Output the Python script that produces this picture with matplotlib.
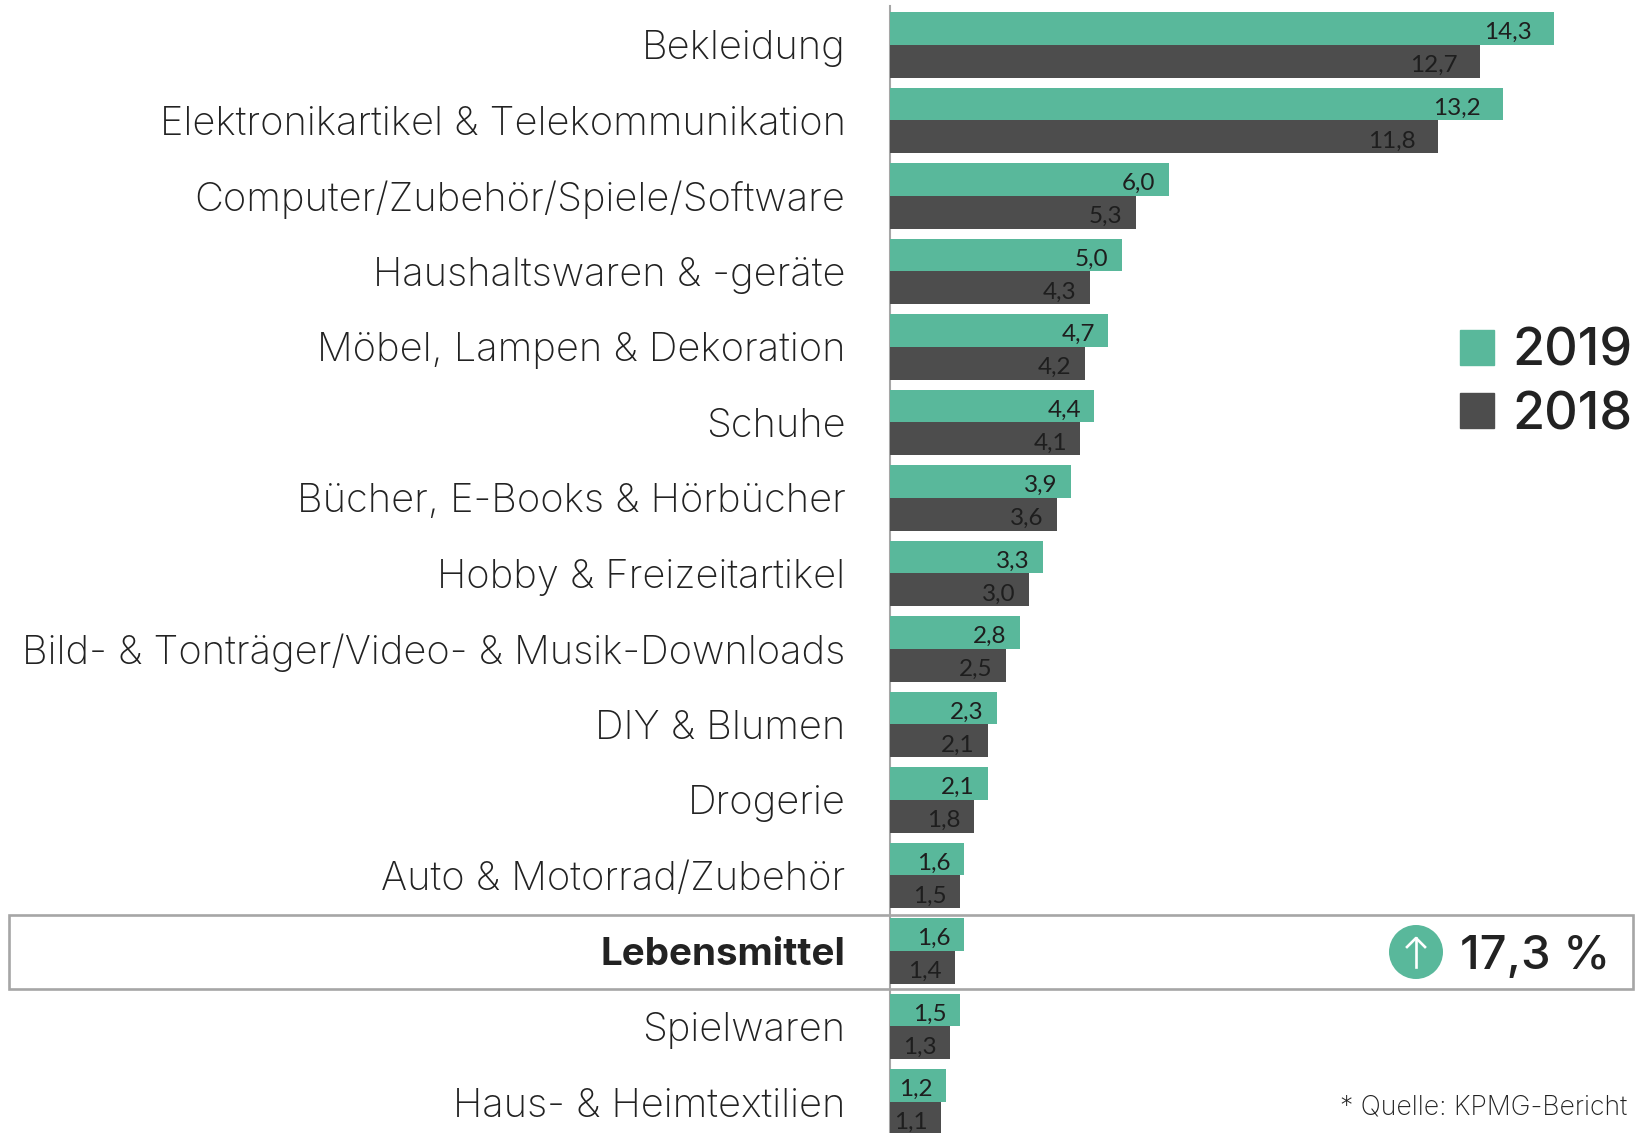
import matplotlib
matplotlib.use("Agg")
import matplotlib.pyplot as plt
from matplotlib.patches import Rectangle, Circle, Patch
from matplotlib.transforms import Affine2D

categories = ["Bekleidung", "Elektronikartikel & Telekommunikation",
              "Computer/Zubehör/Spiele/Software", "Haushaltswaren & -geräte",
              "Möbel, Lampen & Dekoration", "Schuhe", "Bücher, E-Books & Hörbücher",
              "Hobby & Freizeitartikel", "Bild- & Tonträger/Video- & Musik-Downloads",
              "DIY & Blumen", "Drogerie", "Auto & Motorrad/Zubehör", "Lebensmittel",
              "Spielwaren", "Haus- & Heimtextilien"]
values_2019 = [14.3, 13.2, 6.0, 5.0, 4.7, 4.4, 3.9, 3.3, 2.8, 2.3, 2.1, 1.6, 1.6, 1.5, 1.2]
values_2018 = [12.7, 11.8, 5.3, 4.3, 4.2, 4.1, 3.6, 3.0, 2.5, 2.1, 1.8, 1.5, 1.4, 1.3, 1.1]
highlight = "Lebensmittel"
highlight_change = "17,3 %"
source = "Quelle: KPMG-Bericht"

GREEN, DARK, INK, GREY = "#59b89b", "#4d4d4d", "#222222", "#a6a6a6"
W, H = 1637, 1133
plt.rcParams["font.family"] = ["Inter", "DejaVu Sans"]

fig = plt.figure(figsize=(W / 100, H / 100), dpi=100, facecolor="white")
px = Affine2D().scale(1 / W, -1 / H).translate(0, 1) + fig.transFigure

left, top = 890, 6
ax = fig.add_axes([left / W, 0, 1 - left / W, 1 - top / H])
ax.set_xlim(0, (W - left) / 46.45)
ax.set_ylim((H - 44.9) / 75.5, -(44.9 - top) / 75.5)
ax.patch.set_alpha(0)
for s in ("top", "right", "bottom"):
    ax.spines[s].set_visible(False)
ax.spines["left"].set_color(GREY)
ax.spines["left"].set_linewidth(1.5)
ax.set_xticks([])

ys = list(range(len(categories)))
h = 0.432
ax.barh([y - h / 2 for y in ys], values_2019, height=h, color=GREEN, label="2019", zorder=3)
ax.barh([y + h / 2 for y in ys], values_2018, height=h, color=DARK, label="2018", zorder=3)

ax.set_yticks(ys)
ax.set_yticklabels(categories, fontsize=28.7, color=INK, fontweight="light")
ax.tick_params(axis="y", length=0, pad=32)
for lab in ax.get_yticklabels():
    if lab.get_text() == highlight:
        lab.set_fontweight("bold")
        lab.set_fontsize(27.8)

for vals, off in ((values_2019, -h / 2), (values_2018, h / 2)):
    for y, v in zip(ys, vals):
        inset = 22 if v >= 10 else 13.5
        ax.annotate(f"{v:.1f}".replace(".", ","), (v, y + off), xytext=(-inset * 0.72, -3),
                    textcoords="offset points", ha="right", va="center",
                    fontsize=17.5, color="#1e1e1e", zorder=4, family="Lato")

fig.add_artist(Rectangle((9, 915), 1624, 74, transform=px, fill=False, ec=GREY, lw=1.9, zorder=1))
fig.add_artist(Circle((1416, 952), 27, transform=px, fc=GREEN, ec="none"))
fig.add_artist(plt.Line2D([1416, 1416], [967, 938], transform=px, color="white", lw=1.9))
fig.add_artist(plt.Line2D([1407, 1416, 1425], [947, 938, 947], transform=px, color="white", lw=1.9))
fig.text(1460 / W, 1 - 957 / H, highlight_change, fontsize=34, color=INK, va="center", ha="left", fontweight="medium")
fig.text(1627 / W, 1 - 1107 / H, "* " + source, fontsize=19.2, color=INK, va="center", ha="right", fontweight="light")

fig.legend(handles=[Patch(color=GREEN, label="2019"), Patch(color=DARK, label="2018")],
           loc="upper right", bbox_to_anchor=(1632 / W, 1 - 328 / H), frameon=False,
           handlelength=0.66, handleheight=0.66, handletextpad=0.34,
           labelspacing=0.27, borderpad=0, borderaxespad=0, labelcolor=INK,
           prop={"size": 37.5, "weight": "medium"})

fig.savefig("out.png", dpi=100)
